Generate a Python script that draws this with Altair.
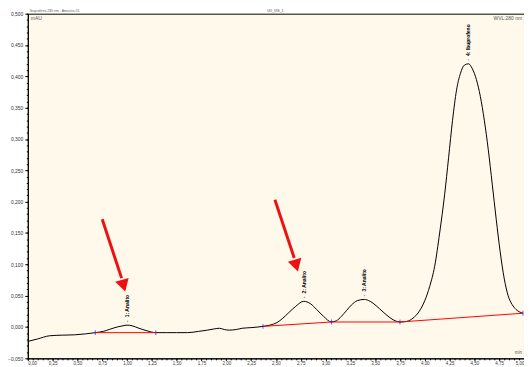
import altair as alt
import pandas as pd

# chromatogram trace (time in min, signal in AU)
times = [0.00, 0.10, 0.22, 0.35, 0.47, 0.58, 0.68, 0.76, 0.82, 0.90, 0.96, 1.00, 1.05, 1.12, 1.20, 1.29,
         1.40, 1.50, 1.61, 1.72, 1.81, 1.88, 1.93, 1.98, 2.03, 2.10, 2.16, 2.25, 2.37, 2.44, 2.51, 2.57,
         2.63, 2.70, 2.78, 2.85, 2.91, 2.98, 3.06, 3.11, 3.16, 3.21, 3.26, 3.32, 3.39, 3.45, 3.51, 3.58,
         3.64, 3.70, 3.75, 3.82, 3.88, 3.94, 4.00, 4.05, 4.10, 4.15, 4.20, 4.24, 4.28, 4.32, 4.36, 4.40,
         4.44, 4.48, 4.52, 4.56, 4.60, 4.64, 4.68, 4.72, 4.76, 4.80, 4.84, 4.88, 4.92, 4.99]
signal = [-0.023, -0.019, -0.014, -0.013, -0.0125, -0.011, -0.009, -0.007, -0.004, 0.000, 0.002, 0.003, 0.002, -0.002, -0.006, -0.009,
          -0.009, -0.009, -0.009, -0.007, -0.005, -0.003, -0.002, -0.004, -0.005, -0.004, -0.002, -0.001, 0.001, 0.003, 0.007, 0.014,
          0.023, 0.033, 0.041, 0.037, 0.028, 0.017, 0.008, 0.010, 0.017, 0.026, 0.035, 0.042, 0.044, 0.041, 0.034, 0.024,
          0.016, 0.010, 0.008, 0.009, 0.014, 0.024, 0.042, 0.065, 0.097, 0.150, 0.211, 0.270, 0.330, 0.378, 0.405, 0.418,
          0.420, 0.412, 0.395, 0.368, 0.330, 0.283, 0.228, 0.172, 0.120, 0.078, 0.050, 0.036, 0.028, 0.022]

# integration baselines
base_seg = [1, 1, 2, 2, 2, 3, 3]
base_t = [0.68, 1.29, 2.37, 3.06, 3.75, 3.75, 4.99]
base_v = [-0.009, -0.009, 0.001, 0.008, 0.008, 0.008, 0.022]

# peak delimiters
delim_t = [0.68, 1.29, 2.37, 3.06, 3.75, 4.99]
delim_v = [-0.009, -0.009, 0.001, 0.008, 0.008, 0.022]

# peak labels
peak_t = [1.00, 2.78, 3.39, 4.44]
peak_v = [0.003, 0.041, 0.044, 0.420]
peak_names = ["1: Analito", "2: Analito", "3: Analito", "4: Ibuprofeno"]

# annotation arrows (tail -> head)
arrow_t0 = [0.75, 2.49]
arrow_v0 = [0.172, 0.203]
arrow_t1 = [0.945, 2.685]
arrow_v1 = [0.078, 0.110]
head_t = [0.965, 2.705]
head_v = [0.066, 0.098]

x_ticks = [i * 0.25 for i in range(21)]
x_minor = [i * 0.05 for i in range(101)]
y_ticks = [round(-0.05 + i * 0.05, 3) for i in range(12)]
y_minor = [round(-0.05 + i * 0.01, 3) for i in range(56)]

FONT = "Liberation Sans"

trace = pd.DataFrame({"t": times, "v": signal})
base = pd.DataFrame({"seg": base_seg, "t": base_t, "v": base_v})
delim = pd.DataFrame({"t": delim_t, "v": delim_v})
peaks = pd.DataFrame({"t": peak_t, "v": peak_v, "name": peak_names})
arrows = pd.DataFrame({"t0": arrow_t0, "v0": arrow_v0, "t1": arrow_t1, "v1": arrow_v1,
                       "ht": head_t, "hv": head_v})

xs = alt.Scale(domain=[0, 5.0], nice=False)
ys = alt.Scale(domain=[-0.05, 0.5], nice=False)

lab_x = "replace(format(datum.value, '.2f'), '.', ',')"
lab_y = "replace(format(datum.value, '.3f'), '.', ',')"

x_axis = alt.Axis(values=x_ticks, labelExpr=lab_x, title=None, grid=False, tickSize=2, orient="bottom",
                  labelFontSize=4.5, labelFont=FONT, labelColor="#333", domainColor="black",
                  tickColor="black", labelPadding=0, labelOverlap=False)
y_axis = alt.Axis(values=y_ticks, labelExpr=lab_y, title=None, grid=False, tickSize=3, orient="left",
                  labelFontSize=5, labelFont=FONT, labelColor="#333", domainColor="black",
                  tickColor="black", labelPadding=2, labelOverlap=False)


def X(f):
    return alt.X(f, scale=xs, axis=None)


def Y(f):
    return alt.Y(f, scale=ys, axis=None)


line = alt.Chart(trace).mark_line(color="black", strokeWidth=1, interpolate="monotone").encode(
    x=alt.X("t:Q", scale=xs, axis=x_axis),
    y=alt.Y("v:Q", scale=ys, axis=y_axis),
)

minor_x = alt.Chart(trace).mark_point(opacity=0).encode(
    x=alt.X("t:Q", scale=xs, axis=alt.Axis(values=x_minor, labels=False, title=None, grid=False,
                                           tickSize=1.5, orient="bottom", domain=False, tickColor="black")),
    y=Y("v:Q"),
)
minor_y = alt.Chart(trace).mark_point(opacity=0).encode(
    x=X("t:Q"),
    y=alt.Y("v:Q", scale=ys, axis=alt.Axis(values=y_minor, labels=False, title=None, grid=False,
                                           tickSize=1.5, orient="left", domain=False, tickColor="black")),
)

baseline = alt.Chart(base).mark_line(color="#ff0000", strokeWidth=1).encode(
    x=X("t:Q"), y=Y("v:Q"), detail="seg:N"
)

delims = alt.Chart(delim).mark_tick(color="#2020ff", size=5, thickness=1, orient="vertical").encode(
    x=X("t:Q"), y=Y("v:Q")
)

labels = alt.Chart(peaks).mark_text(angle=270, align="left", baseline="middle", dx=8,
                                    fontSize=5, font=FONT, color="black", fontWeight="bold").encode(
    x=X("t:Q"), y=Y("v:Q"), text="name:N"
)
label_dots = alt.Chart(peaks).mark_text(angle=270, align="left", baseline="middle", dx=3,
                                        fontSize=5, font=FONT, color="black").encode(
    x=X("t:Q"), y=Y("v:Q"), text=alt.value("-")
)

arrow_shaft = alt.Chart(arrows).mark_rule(color="#ee1111", strokeWidth=3).encode(
    x=X("t0:Q"), y=Y("v0:Q"), x2="t1:Q", y2="v1:Q"
)
arrow_head = alt.Chart(arrows).mark_point(shape="triangle-down", filled=True, color="#ee1111",
                                          size=200, angle=344, opacity=1).encode(
    x=X("ht:Q"), y=Y("hv:Q")
)

one = pd.DataFrame({"a": [0]})
top_txt = alt.Chart(one).mark_text(
    fontSize=5, font=FONT, color="#555", align="left", baseline="middle").encode(
    x=alt.value(3), y=alt.value(4), text=alt.value("mAU")
)
wvl_txt = alt.Chart(one).mark_text(
    fontSize=5, font=FONT, color="#555", align="right", baseline="middle").encode(
    x=alt.value(499), y=alt.value(4), text=alt.value("WVL:280 nm")
)
min_txt = alt.Chart(one).mark_text(
    fontSize=4.5, font=FONT, color="#555", align="right", baseline="bottom").encode(
    x=alt.value(499), y=alt.value(345), text=alt.value("min")
)
left_title = alt.Chart(one).mark_text(
    fontSize=3.5, font=FONT, color="#666", align="left", baseline="bottom").encode(
    x=alt.value(2), y=alt.value(-0.5), text=alt.value("Ibuprofeno 280 nm - Amostra 01")
)
head_txt = alt.Chart(one).mark_text(
    fontSize=3.5, font=FONT, color="#444", align="center", baseline="bottom").encode(
    x=alt.value(250), y=alt.value(-0.5), text=alt.value("UV_VIS_1")
)

chart = alt.layer(
    minor_x, minor_y, line, baseline, delims, label_dots, labels, arrow_shaft, arrow_head,
    top_txt, wvl_txt, min_txt, left_title, head_txt
).resolve_axis(x="independent", y="independent").properties(
    width=501, height=348,
    autosize=alt.AutoSizeParams(type="none"),
    padding={"left": 20, "top": 4, "right": 0, "bottom": 6},
    background="white",
).configure_view(fill="#fff9ec", stroke="black", strokeWidth=1)

chart.save("out.html", embed_options={"renderer": "svg", "actions": False})
